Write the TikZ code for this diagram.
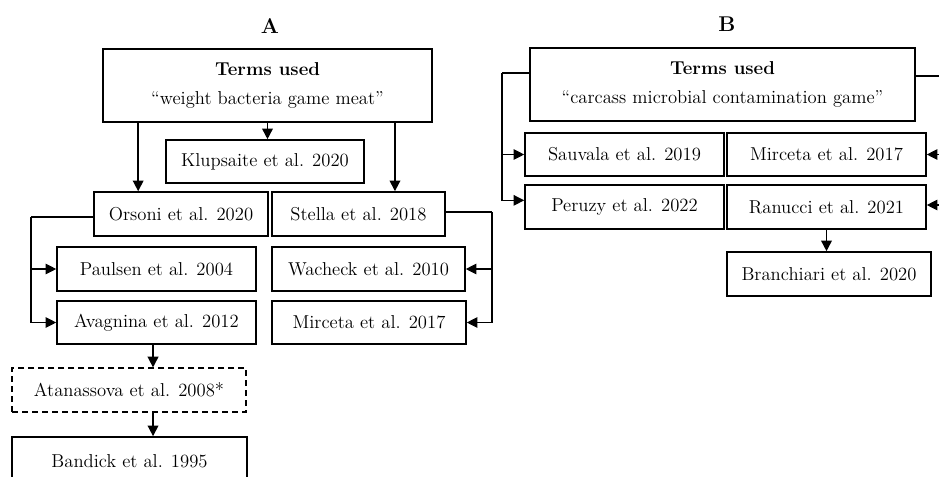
\documentclass[tikz,border=0pt]{standalone}
\usetikzlibrary{arrows.meta}

\tikzset{
  box/.style={rectangle, draw, line width=1.2pt, inner sep=0pt, minimum height=33pt, font=\fontsize{14}{16}\selectfont},
  dbox/.style={box, line width=0.9pt, dash pattern=on 4.5pt off 3pt},
  termbox/.style={box, minimum height=54.75pt, align=center},
  arrow/.style={-{Triangle[length=8pt,width=8pt]}, line width=1.2pt},
  link/.style={line width=0.8pt},
  title/.style={font=\fontsize{16}{18}\selectfont\bfseries}
}

\begin{document}
\begin{tikzpicture}[x=0.75pt, y=-0.75pt]
    \useasboundingbox (0,0) rectangle (939,476);

    % A
    \node[title] (titleA) at (270,26) {A};
    \node[termbox, minimum width=246.75pt] (topA) at (267.5,85.5) {\textbf{Terms used}\\[6pt]``weight bacteria game meat''};
    \node[box, minimum width=148.5pt, minimum height=32.25pt] (klup) at (265,161.5) {Klupsaite et al. 2020};
    \node[box, minimum width=130.5pt] (orsoni) at (181,214) {Orsoni et al. 2020};
    \node[box, minimum width=129.75pt] (stella) at (358.5,214) {Stella et al. 2018};
    \node[box, minimum width=149.25pt] (paulsen) at (156.5,269) {Paulsen et al. 2004};
    \node[box, minimum width=149.25pt, minimum height=32.25pt] (avagnina) at (156.5,322.5) {Avagnina et al. 2012};
    \node[box, minimum width=144.75pt] (wacheck) at (368.5,269) {Wacheck et al. 2010};
    \node[box, minimum width=145.5pt, minimum height=32.25pt] (mircetaA) at (369,322.5) {Mirceta et al. 2017};
    \node[dbox, minimum width=175.5pt] (atanassova) at (129,390) {Atanassova et al. 2008*};
    \node[box, minimum width=176.25pt, minimum height=36pt] (bandick) at (129.5,461) {Bandick et al. 1995};

    \path ([xshift=-97pt]topA.south) coordinate (aL);
    \path ([xshift=95.6pt]topA.south) coordinate (aR);
    \coordinate (oL) at (31,217);
    \coordinate (sR) at (492,212);

    \draw[arrow] (aL) -- (aL |- orsoni.north);
    \draw[arrow] (topA.south) -- (topA.south |- klup.north);
    \draw[arrow] (aR) -- (aR |- stella.north);
    \draw[link] (oL -| orsoni.west) -- (oL);
    \draw[arrow, link] (oL) |- (paulsen.west);
    \draw[arrow, link] (oL) |- (avagnina.west);
    \draw[link] (sR -| stella.east) -- (sR);
    \draw[arrow, link] (sR) |- (wacheck.east);
    \draw[arrow, link] (sR) |- (mircetaA.east);
    \draw[arrow] ([xshift=-2.6pt]avagnina.south) -- ([xshift=-2.6pt]avagnina.south |- atanassova.north);
    \draw[arrow] ([xshift=-2.6pt]avagnina.south |- atanassova.south) -- ([xshift=-2.6pt]avagnina.south |- bandick.north);

    % B
    \node[title] (titleB) at (727,24) {B};
    \node[termbox, minimum width=288.75pt] (topB) at (722.5,84.5) {\textbf{Terms used}\\[6pt]``carcass microbial contamination game''};
    \node[box, minimum width=149.25pt, minimum height=32.25pt] (sauvala) at (624.5,154.5) {Sauvala et al. 2019};
    \node[box, minimum width=149.25pt] (peruzy) at (624.5,207) {Peruzy et al. 2022};
    \node[box, minimum width=149.25pt, minimum height=32.25pt] (mircetaB) at (826.5,154.5) {Mirceta et al. 2017};
    \node[box, minimum width=149.25pt] (ranucci) at (826.5,207) {Ranucci et al. 2021};
    \node[box, minimum width=153pt] (branch) at (829,274) {Branchiari et al. 2020};

    \coordinate (bL) at (502,73);
    \coordinate (bR) at (945,76);

    \draw[link] (bL -| topB.west) -- (bL);
    \draw[arrow, link] (bL) |- (sauvala.west);
    \draw[arrow, link] (bL) |- ([yshift=5pt]peruzy.west);
    \draw[link] (bR -| topB.east) -- (bR);
    \draw[arrow, link] (bR) |- (mircetaB.east);
    \draw[arrow, link] (bR) |- ([yshift=1.5pt]ranucci.east);
    \draw[arrow] (ranucci.south) -- (ranucci.south |- branch.north);

  \end{tikzpicture}
\end{document}
